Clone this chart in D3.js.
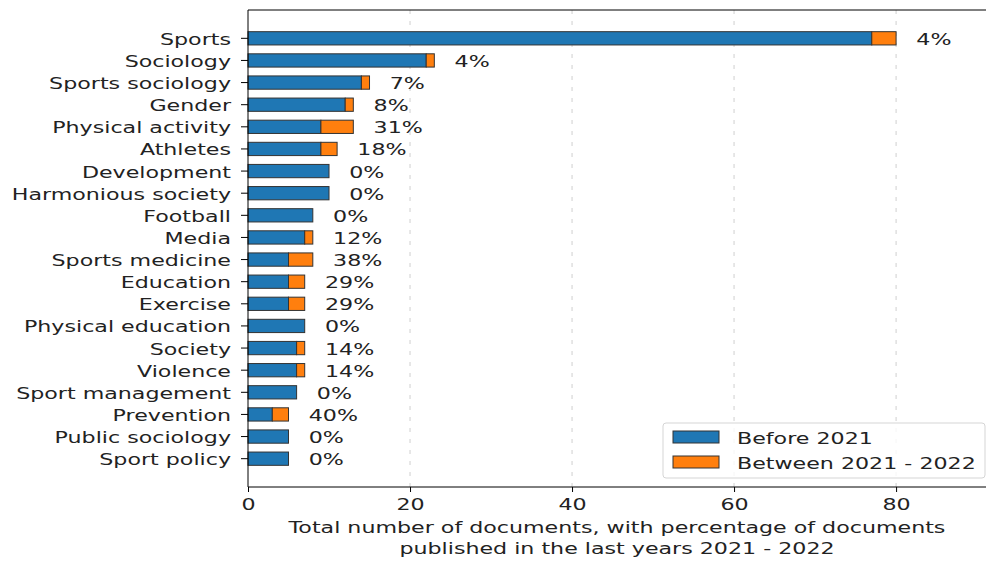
<!DOCTYPE html>
<html>
<head>
<meta charset="utf-8">
<script src="https://cdn.jsdelivr.net/npm/d3@7"></script>
<style>
	body { margin: 0; background: #fff; }
	svg { display: block; font-family: "DejaVu Sans", sans-serif; }
</style>
</head>
<body>
<div id="chart"></div>
<script>
// data
let categories = ["Sports", "Sociology", "Sports sociology", "Gender", "Physical activity", "Athletes",
	"Development", "Harmonious society", "Football", "Media", "Sports medicine", "Education", "Exercise",
	"Physical education", "Society", "Violence", "Sport management", "Prevention", "Public sociology", "Sport policy"];
let before2021 = [77, 22, 14, 12, 9, 9, 10, 10, 8, 7, 5, 5, 5, 7, 6, 6, 6, 3, 5, 5];
let between2021_2022 = [3, 1, 1, 1, 4, 2, 0, 0, 0, 1, 3, 2, 2, 0, 1, 1, 0, 2, 0, 0];
let pctLabels = ["4%", "4%", "7%", "8%", "31%", "18%", "0%", "0%", "0%", "12%", "38%", "29%", "29%",
	"0%", "14%", "14%", "0%", "40%", "0%", "0%"];
let xTicks = [0, 20, 40, 60, 80];
let seriesNames = ["Before 2021", "Between 2021 - 2022"];
let colors = ["#1f77b4", "#ff7f0e"];

let width = 986;
let height = 561;
let margin = {
	top: 10,
	right: 0,
	bottom: 74,
	left: 248
};
let fontSize = 15.5;
let stretchX = 1.43; // the source picture is wider than tall, text looks stretched

// squeeze text horizontally around its own anchor point
function stretch(sel) {
	sel.each(function() {
		let t = d3.select(this);
		let tx = +t.attr("x") || 0;
		let ty = +t.attr("y") || 0;
		t.attr("x", 0).attr("y", 0)
			.attr("transform", "translate(" + tx + "," + ty + ") scale(" + stretchX + ",1)");
	});
}

let rows = categories.map((c, i) => ({
	name: c,
	before: before2021[i],
	after: between2021_2022[i],
	label: pctLabels[i]
}));

let svg = d3.select("#chart")
	.append("svg")
	.attr("width", width)
	.attr("height", height);

let x = d3.scaleLinear()
	.domain([0, 91.1])
	.range([margin.left, width - margin.right]);

let y = d3.scaleBand()
	.domain(categories)
	.range([margin.top, height - margin.bottom])
	.paddingInner(0.4)
	.paddingOuter(0.98);

// grid
svg.append("g")
	.selectAll("line")
	.data(xTicks.filter(d => d > 0))
	.enter().append("line")
	.attr("x1", d => x(d)).attr("x2", d => x(d))
	.attr("y1", margin.top).attr("y2", height - margin.bottom)
	.attr("stroke", "#cfcfcf")
	.attr("stroke-width", 1)
	.attr("stroke-dasharray", "4,7");

// stacked bars
let stack = d3.stack().keys(["before", "after"])(rows);
svg.append("g")
	.selectAll("g")
	.data(stack)
	.enter().append("g")
	.attr("fill", (d, i) => colors[i])
	.selectAll("rect")
	.data(d => d.filter(p => p[1] > p[0]))
	.enter().append("rect")
	.attr("x", d => x(d[0]))
	.attr("y", d => y(d.data.name))
	.attr("width", d => x(d[1]) - x(d[0]))
	.attr("height", y.bandwidth())
	.attr("stroke", "#333")
	.attr("stroke-width", 1);

// percentage labels
svg.append("g")
	.selectAll("text")
	.data(rows)
	.enter().append("text")
	.attr("x", d => x(d.before + d.after + 2.5))
	.attr("y", d => y(d.name) + y.bandwidth() / 2)
	.attr("dy", "0.42em")
	.attr("font-size", fontSize)
	.attr("fill", "#222")
	.text(d => d.label)
	.call(stretch);

// axes
let yAxis = svg.append("g")
	.attr("transform", "translate(" + margin.left + ",0)")
	.call(d3.axisLeft(y).tickSize(7).tickPadding(10).tickSizeOuter(0));
yAxis.select(".domain").remove();
yAxis.selectAll("text").attr("font-size", fontSize).attr("fill", "#222").attr("font-family", "DejaVu Sans")
	.attr("dy", "0.42em")
	.call(stretch);

let xAxis = svg.append("g")
	.attr("transform", "translate(0," + (height - margin.bottom) + ")")
	.call(d3.axisBottom(x).tickValues(xTicks).tickSize(5).tickPadding(7).tickSizeOuter(0));
xAxis.select(".domain").remove();
xAxis.selectAll("text").attr("font-size", fontSize).attr("fill", "#222").attr("font-family", "DejaVu Sans")
	.call(stretch);

// spines (no right one, it is off the picture)
svg.append("line")
	.attr("x1", margin.left).attr("x2", width)
	.attr("y1", margin.top).attr("y2", margin.top)
	.attr("stroke", "#000");
svg.append("line")
	.attr("x1", margin.left).attr("x2", width)
	.attr("y1", height - margin.bottom).attr("y2", height - margin.bottom)
	.attr("stroke", "#000");
svg.append("line")
	.attr("x1", margin.left).attr("x2", margin.left)
	.attr("y1", margin.top).attr("y2", height - margin.bottom)
	.attr("stroke", "#000");

// axis title
let titleLines = ["Total number of documents, with percentage of documents",
	"published in the last years 2021 - 2022"];
svg.append("g")
	.selectAll("text")
	.data(titleLines)
	.enter().append("text")
	.attr("x", (margin.left + width) / 2)
	.attr("y", (d, i) => 533 + i * 21)
	.attr("text-anchor", "middle")
	.attr("font-size", fontSize)
	.attr("fill", "#222")
	.text(d => d)
	.call(stretch);

// legend
let legend = svg.append("g").attr("transform", "translate(663,423)");
legend.append("rect")
	.attr("width", 322).attr("height", 55)
	.attr("rx", 3)
	.attr("fill", "#fff").attr("fill-opacity", 0.8)
	.attr("stroke", "#d5d5d5");
let items = legend.selectAll(".item")
	.data(seriesNames)
	.enter().append("g")
	.attr("class", "item")
	.attr("transform", (d, i) => "translate(10," + (8 + i * 25) + ")");
items.append("rect")
	.attr("width", 46).attr("height", 12)
	.attr("fill", (d, i) => colors[i])
	.attr("stroke", "#333");
items.append("text")
	.attr("x", 64)
	.attr("y", 6)
	.attr("dy", "0.42em")
	.attr("font-size", fontSize)
	.attr("fill", "#222")
	.text(d => d)
	.call(stretch);
</script>
</body>
</html>
